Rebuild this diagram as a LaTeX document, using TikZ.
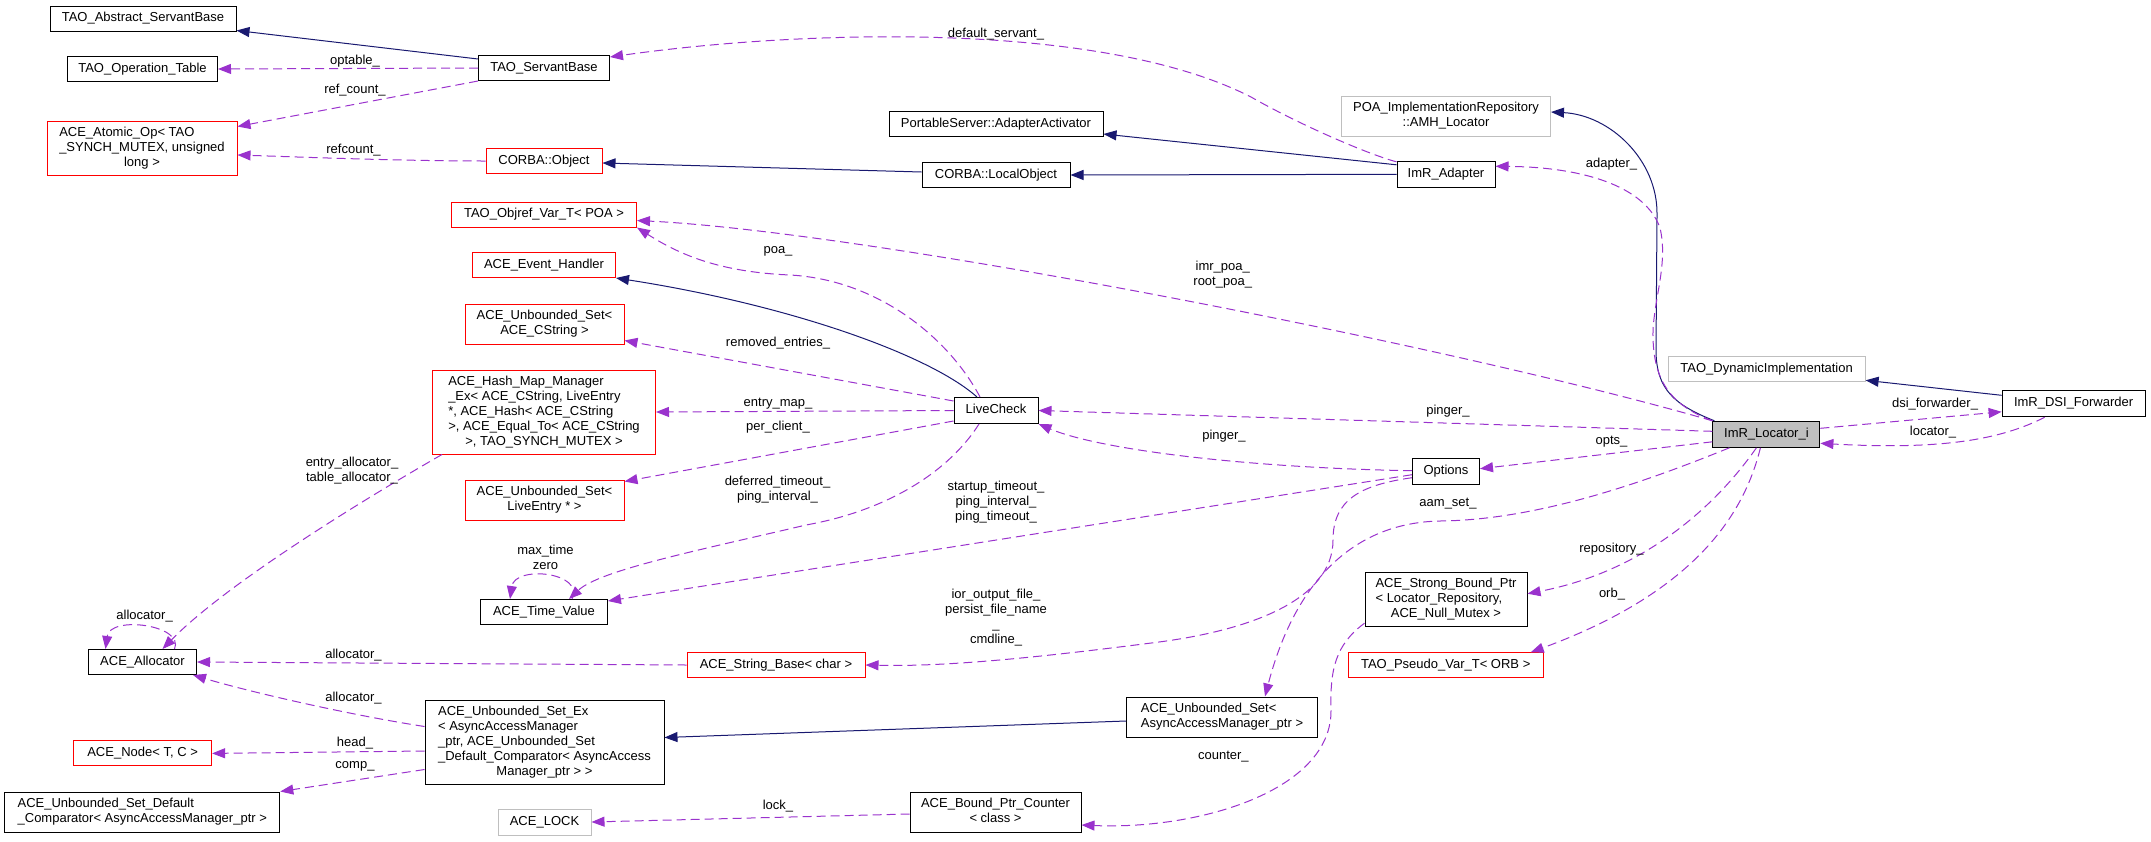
\documentclass[tikz,border=0pt]{standalone}
\usepackage{fontspec}
\setmainfont{Liberation Sans}
\usetikzlibrary{arrows.meta}
\definecolor{inhblue}{HTML}{191970}
\definecolor{usepurple}{HTML}{9A32CD}
\definecolor{undocgray}{HTML}{BFBFBF}
\newcommand{\clsname}[1]{\begin{tabular}{@{}l@{}}#1\end{tabular}}
\newcommand{\lastln}[1]{\multicolumn{1}{@{}c@{}}{#1}}
\newcommand{\memlbl}[1]{\begin{tabular}{@{}c@{}}#1\end{tabular}}
\tikzset{
        >={Triangle[length=13pt,width=10pt]}, % filled heads like graphviz
        cls/.style={draw=black, fill=white, line width=1pt, inner sep=0pt,
                minimum height=25pt, minimum width=#1}, % documented class
        trunc/.style={cls=#1, draw=red}, % class with hidden bases
        undoc/.style={cls=#1, draw=undocgray}, % undocumented class
        inherit/.style={->, draw=inhblue, line width=1pt}, % public base
        member/.style={->, draw=usepurple, line width=1pt, dash pattern=on 9pt off 5pt}, % usage
        memlabel/.style={inner sep=0pt},
    }
\begin{document}
\begin{tikzpicture}[x=1pt, y=-1pt, font=\fontsize{13}{15}\selectfont]
    \useasboundingbox (0,0) rectangle (2151,841);
    % classes
    \node[cls=186pt] (asb) at (143,18.5) {\clsname{TAO\_Abstract\_ServantBase}};
    \node[cls=150pt] (optab) at (142.5,69) {\clsname{TAO\_Operation\_Table}};
    \node[trunc=190pt, minimum height=54pt] (atomic) at (142,148) {\clsname{ACE\_Atomic\_Op< TAO\\ \_SYNCH\_MUTEX, unsigned\\ \lastln{long >}}};
    \node[cls=131pt] (sb) at (544,68) {\clsname{TAO\_ServantBase}};
    \node[trunc=116pt] (cobj) at (544,161) {\clsname{CORBA::Object}};
    \node[trunc=185pt] (objref) at (544,214.5) {\clsname{TAO\_Objref\_Var\_T< POA >}};
    \node[trunc=143pt] (evh) at (544,265) {\clsname{ACE\_Event\_Handler}};
    \node[trunc=159pt, minimum height=40pt] (usc) at (544.5,324) {\clsname{ACE\_Unbounded\_Set<\\ \lastln{ACE\_CString >}}};
    \node[trunc=223pt, minimum height=84pt] (hmm) at (544,412) {\clsname{ACE\_Hash\_Map\_Manager\\ \_Ex< ACE\_CString, LiveEntry\\ {*}, ACE\_Hash< ACE\_CString\\ >, ACE\_Equal\_To< ACE\_CString\\ \lastln{>, TAO\_SYNCH\_MUTEX >}}};
    \node[trunc=159pt, minimum height=40pt] (usle) at (544.5,500) {\clsname{ACE\_Unbounded\_Set<\\ \lastln{LiveEntry * >}}};
    \node[cls=127pt] (tv) at (544,612) {\clsname{ACE\_Time\_Value}};
    \node[cls=108pt] (alloc) at (142.5,662) {\clsname{ACE\_Allocator}};
    \node[cls=239pt, minimum height=84pt] (use) at (544.5,742.5) {\clsname{ACE\_Unbounded\_Set\_Ex\\ < AsyncAccessManager\\ \_ptr, ACE\_Unbounded\_Set\\ \_Default\_Comparator< AsyncAccess\\ \lastln{Manager\_ptr > >}}};
    \node[trunc=138pt] (anode) at (142.6,753.4) {\clsname{ACE\_Node< T, C >}};
    \node[cls=275pt, minimum height=40pt] (usdc) at (142.3,812) {\clsname{ACE\_Unbounded\_Set\_Default\\ \lastln{\_Comparator< AsyncAccessManager\_ptr >}}};
    \node[undoc=93pt, minimum height=26pt] (lock) at (544.5,822) {\clsname{ACE\_LOCK}};
    \node[trunc=178pt] (strb) at (776,665) {\clsname{ACE\_String\_Base< char >}};
    \node[cls=214pt] (aact) at (996,124) {\clsname{PortableServer::AdapterActivator}};
    \node[cls=148pt] (lobj) at (996,175) {\clsname{CORBA::LocalObject}};
    \node[cls=84pt, minimum height=26pt] (lc) at (996,410.5) {\clsname{LiveCheck}};
    \node[cls=171pt, minimum height=40pt] (bpc) at (995.5,812) {\clsname{ACE\_Bound\_Ptr\_Counter\\ \lastln{< class >}}};
    \node[cls=191pt, minimum height=40pt] (usaam) at (1222,717) {\clsname{ACE\_Unbounded\_Set<\\ \lastln{AsyncAccessManager\_ptr >}}};
    \node[undoc=209pt, minimum height=40pt] (amh) at (1446,116) {\clsname{POA\_ImplementationRepository\\ \lastln{::AMH\_Locator}}};
    \node[cls=98pt, minimum height=26pt] (adp) at (1446,174.3) {\clsname{ImR\_Adapter}};
    \node[cls=67pt, minimum height=26pt] (opts) at (1446,471.7) {\clsname{Options}};
    \node[cls=162pt, minimum height=54pt] (sbp) at (1446,599.7) {\clsname{ACE\_Strong\_Bound\_Ptr\\ < Locator\_Repository,\\ \lastln{ACE\_Null\_Mutex >}}};
    \node[trunc=195pt] (pvar) at (1445.7,665.3) {\clsname{TAO\_Pseudo\_Var\_T< ORB >}};
    \node[undoc=197pt] (dyn) at (1766.6,369.3) {\clsname{TAO\_DynamicImplementation}};
    \node[cls=107pt, minimum height=26pt, fill=undocgray] (loc) at (1766.4,434.3) {\clsname{ImR\_Locator\_i}};
    \node[cls=143pt, minimum height=26pt] (dsi) at (2073.6,403.8) {\clsname{ImR\_DSI\_Forwarder}};
    % base classes
    \draw[inherit] ([yshift=-4pt]sb.north west) -- ([yshift=1pt]asb.south east);
    \draw[inherit] ([yshift=3pt]lobj.west) -- ([yshift=-2pt]cobj.east);
    \draw[inherit] ([yshift=-4pt]adp.north west) -- ([yshift=3pt]aact.south east);
    \draw[inherit] (adp.west) -- (lobj.east);
    \draw[inherit] ([xshift=-19pt]lc.north) .. controls (930,355) and (790,305) .. (evh.south east);
    \draw[inherit] ([xshift=2pt]loc.north west) .. controls (1675,405) and (1656,390) .. (1656,350)
        -- (1657,215) .. controls (1658,160) and (1610,115) .. ([yshift=4pt]amh.east);
    \draw[inherit] ([yshift=-5pt]dsi.north west) -- ([yshift=2pt]dyn.south east);
    \draw[inherit] ([yshift=-4pt]usaam.west) -- ([yshift=5pt]use.east);
    % members
    \draw[member] (sb.west) -- (optab.east);
    \draw[member] (sb.south west) -- ([yshift=-6pt]atomic.north east);
    \draw[member] (cobj.west) .. controls (400,161) and (300,157) .. ([yshift=-7pt]atomic.east);
    \draw[member] ([yshift=-1pt]adp.north west) .. controls (1370,155) and (1300,125) .. (1251,97)
        .. controls (1100,20) and (800,30) .. ([yshift=11pt]sb.east);
    \draw[member] (loc.north west) .. controls (1670,405) and (1652,380) .. (1653,330)
        .. controls (1655,295) and (1668,262) .. (1660,228)
        .. controls (1645,185) and (1580,167) .. ([yshift=8pt]adp.east);
    \draw[member] (loc.north west) .. controls (1450,345) and (870,232) .. ([yshift=-6pt]objref.east);
    \draw[member] ([xshift=-16pt]lc.north) .. controls (950,340) and (880,280) .. (790,275)
        .. controls (720,272) and (680,255) .. (objref.south east);
    \draw[member] ([yshift=-4pt]lc.north west) -- ([yshift=4pt]usc.south east);
    \draw[member] (lc.west) -- (hmm.east);
    \draw[member] ([yshift=3pt]lc.south west) -- ([yshift=-2pt]usle.north east);
    \draw[member] ([xshift=-17pt]lc.south) .. controls (950,470) and (890,510) .. (806,525)
        .. controls (700,550) and (600,570) .. ([xshift=25pt]tv.north);
    \draw[member] ([yshift=-3pt]opts.west) -- ([yshift=-2pt]tv.north east);
    \draw[member] ([yshift=3pt]loc.west) -- (lc.east);
    \draw[member] ([yshift=1pt]opts.west) .. controls (1250,468) and (1100,450) .. (lc.south east);
    \draw[member] ([yshift=6pt]loc.south west) -- ([yshift=3pt]opts.east);
    \draw[member] ([xshift=17pt]loc.south west) .. controls (1650,480) and (1540,520) .. (1440,521)
        .. controls (1340,523) and (1290,600) .. ([xshift=43pt]usaam.north);
    \draw[member] ([xshift=-10pt]loc.south) .. controls (1720,500) and (1650,570) .. ([yshift=6pt]sbp.east);
    \draw[member] ([xshift=-6pt]loc.south) .. controls (1745,510) and (1700,590) .. ([xshift=-13pt]pvar.north east);
    \draw[member] ([yshift=6pt]loc.east) -- ([yshift=-8pt]dsi.west);
    \draw[member] ([xshift=-29pt]dsi.south) .. controls (2000,440) and (1940,450) .. ([yshift=-9pt]loc.east);
    \draw[member] ([yshift=-6pt]opts.west) .. controls (1360,485) and (1333,500) .. (1333,540)
        .. controls (1333,600) and (1250,630) .. (1159,642)
        .. controls (1050,656) and (950,667) .. (strb.east);
    \draw[member] ([yshift=4pt]sbp.south west) .. controls (1335,645) and (1330,670) .. (1331,710)
        .. controls (1332,790) and (1200,830) .. ([yshift=-13pt]bpc.east);
    \draw[member] ([yshift=-2pt]bpc.west) -- (lock.east);
    \draw[member] (strb.west) -- (alloc.east);
    \draw[member] ([yshift=16pt]use.west) .. controls (350,715) and (250,692) .. ([xshift=-4pt]alloc.south east);
    \draw[member] ([yshift=-8.5pt]use.west) -- (anode.east);
    \draw[member] ([yshift=-27pt]use.west) -- (usdc.north east);
    \draw[member] ([xshift=32pt]alloc.north) .. controls (185,625) and (110,615) .. ([xshift=-37pt]alloc.north);
    \draw[member] ([xshift=10pt]hmm.south west) .. controls (380,490) and (230,580) .. ([xshift=20pt]alloc.north);
    \draw[member] ([xshift=28pt]tv.north) .. controls (585,572) and (515,565) .. ([xshift=-34pt]tv.north);
    % member names
    \node[memlabel] (l-optable) at (355,61) {\memlbl{optable\_}};
    \node[memlabel] (l-refcnt) at (355,90.7) {\memlbl{ref\_count\_}};
    \node[memlabel] (l-refcount) at (353.5,150.7) {\memlbl{refcount\_}};
    \node[memlabel] (l-defserv) at (996,34.7) {\memlbl{default\_servant\_}};
    \node[memlabel] (l-poa) at (778,250.7) {\memlbl{poa\_}};
    \node[memlabel] (l-imrpoa) at (1222.7,275.2) {\memlbl{imr\_poa\_\\root\_poa\_}};
    \node[memlabel] (l-removed) at (778,343.3) {\memlbl{removed\_entries\_}};
    \node[memlabel] (l-entrymap) at (778,403) {\memlbl{entry\_map\_}};
    \node[memlabel] (l-perclient) at (778,427.7) {\memlbl{per\_client\_}};
    \node[memlabel] (l-deferred) at (777.5,489.7) {\memlbl{deferred\_timeout\_\\ping\_interval\_}};
    \node[memlabel] (l-maxtime) at (545.5,559.2) {\memlbl{max\_time\\zero}};
    \node[memlabel] (l-entryalloc) at (352,471) {\memlbl{entry\_allocator\_\\table\_allocator\_}};
    \node[memlabel] (l-selfalloc) at (144.6,616.7) {\memlbl{allocator\_}};
    \node[memlabel] (l-stralloc) at (353.5,655) {\memlbl{allocator\_}};
    \node[memlabel] (l-setalloc) at (353.5,698.7) {\memlbl{allocator\_}};
    \node[memlabel] (l-head) at (355,743.3) {\memlbl{head\_}};
    \node[memlabel] (l-comp) at (355,765) {\memlbl{comp\_}};
    \node[memlabel] (l-lock) at (778,806.7) {\memlbl{lock\_}};
    \node[memlabel] (l-startup) at (996,502.5) {\memlbl{startup\_timeout\_\\ping\_interval\_\\ping\_timeout\_}};
    \node[memlabel] (l-iorfile) at (996,617.5) {\memlbl{ior\_output\_file\_\\persist\_file\_name\\\_\\cmdline\_}};
    \node[memlabel] (l-pinger) at (1448,411) {\memlbl{pinger\_}};
    \node[memlabel] (l-optpinger) at (1224,436) {\memlbl{pinger\_}};
    \node[memlabel] (l-counter) at (1223.4,756.7) {\memlbl{counter\_}};
    \node[memlabel] (l-adapter) at (1611.5,164) {\memlbl{adapter\_}};
    \node[memlabel] (l-opts) at (1611.5,441) {\memlbl{opts\_}};
    \node[memlabel] (l-aamset) at (1448,503.7) {\memlbl{aam\_set\_}};
    \node[memlabel] (l-repo) at (1611.5,549) {\memlbl{repository\_}};
    \node[memlabel] (l-orb) at (1612,594.5) {\memlbl{orb\_}};
    \node[memlabel] (l-dsi) at (1935,404.3) {\memlbl{dsi\_forwarder\_}};
    \node[memlabel] (l-locator) at (1933,432.7) {\memlbl{locator\_}};
\end{tikzpicture}
\end{document}
